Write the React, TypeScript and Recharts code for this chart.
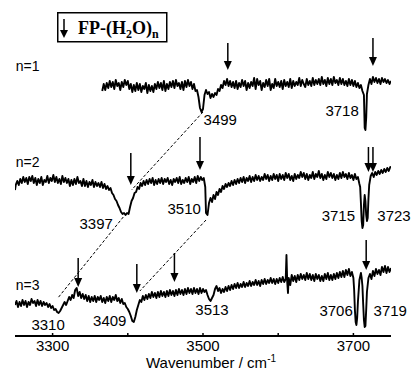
import React from 'react';
import { LineChart, Line, XAxis, YAxis, ReferenceLine, ReferenceDot, Label } from 'recharts';

// Wavenumber (cm-1) / relative intensity pairs
const n1 = [[3366,-3],[3368,4],[3370,-2],[3372,5],[3374,0],[3376,7],[3378,1],[3380,6],[3382,-1],[3384,8],[3386,2],[3388,5],[3390,-2],[3392,6],[3394,1],[3396,8],[3398,3],[3400,7],[3402,-1],[3404,4],[3406,-4],[3408,3],[3410,-3],[3412,5],[3414,-2],[3416,4],[3418,-4],[3420,2],[3422,-1],[3424,5],[3426,-5],[3428,3],[3430,-3],[3432,2],[3434,-4],[3436,4],[3438,-1],[3440,6],[3442,0],[3444,5],[3446,-2],[3448,7],[3450,-3],[3452,4],[3454,-1],[3456,6],[3458,1],[3460,7],[3462,0],[3464,8],[3466,2],[3468,5],[3470,-1],[3472,6],[3474,-2],[3476,7],[3478,1],[3480,8],[3482,2],[3484,6],[3486,-1],[3488,4],[3490,-3],[3492,-2],[3494,-9],[3496,-20],[3498,-24],[3500,-21],[3502,-7],[3504,-2],[3506,-6],[3508,-4],[3510,-10],[3512,-6],[3514,-9],[3516,-5],[3518,-7],[3520,-1],[3522,-3],[3524,3],[3526,0],[3528,7],[3530,3],[3532,9],[3534,2],[3536,7],[3538,1],[3540,6],[3542,0],[3544,7],[3546,-1],[3548,5],[3550,1],[3552,8],[3554,2],[3556,7],[3558,-2],[3560,5],[3562,0],[3564,6],[3566,2],[3568,10],[3570,-1],[3572,9],[3574,3],[3576,7],[3578,-2],[3580,5],[3582,1],[3584,8],[3586,2],[3588,9],[3590,-2],[3592,4],[3594,0],[3596,9],[3598,2],[3600,6],[3602,1],[3604,7],[3606,-1],[3608,8],[3610,2],[3612,6],[3614,1],[3616,9],[3618,0],[3620,7],[3622,2],[3624,6],[3626,3],[3628,10],[3630,2],[3632,8],[3634,4],[3636,1],[3638,9],[3640,3],[3642,7],[3644,2],[3646,10],[3648,3],[3650,8],[3652,4],[3654,9],[3656,3],[3658,11],[3660,4],[3662,8],[3664,2],[3666,10],[3668,4],[3670,9],[3672,3],[3674,11],[3676,5],[3678,8],[3680,3],[3682,10],[3684,4],[3686,9],[3688,3],[3690,7],[3692,2],[3694,9],[3696,3],[3698,8],[3700,2],[3702,7],[3704,1],[3706,5],[3708,0],[3710,3],[3712,-3],[3714,-7],[3715,-40],[3716,-42],[3717,-30],[3718,-6],[3720,3],[3722,9],[3724,4],[3726,11],[3728,6],[3730,10],[3732,5],[3734,9],[3736,4],[3738,10],[3740,6],[3742,9],[3744,5],[3746,8],[3748,4],[3750,7]];

const n2 = [[3250,-7],[3251,-2],[3253,2],[3255,-2],[3257,4],[3259,0],[3261,6],[3263,1],[3265,5],[3267,-1],[3269,6],[3271,2],[3273,7],[3275,0],[3277,5],[3279,-2],[3281,4],[3283,0],[3285,6],[3287,-2],[3289,3],[3291,1],[3293,7],[3295,0],[3297,5],[3299,2],[3301,8],[3303,1],[3305,6],[3307,0],[3309,4],[3311,-1],[3313,7],[3315,1],[3317,5],[3319,0],[3321,4],[3323,-3],[3325,3],[3327,-2],[3329,4],[3331,-1],[3333,6],[3335,0],[3337,2],[3339,-3],[3341,4],[3343,-3],[3345,2],[3347,-4],[3349,1],[3351,-2],[3353,3],[3355,-4],[3357,1],[3359,-3],[3361,0],[3363,-4],[3365,1],[3367,-5],[3369,-1],[3371,-6],[3373,-3],[3375,-7],[3377,-5],[3379,-10],[3381,-12],[3383,-16],[3385,-18],[3387,-22],[3389,-25],[3391,-29],[3393,-31],[3395,-30],[3397,-32],[3399,-30],[3401,-31],[3403,-24],[3405,-18],[3407,-15],[3409,-10],[3411,-9],[3413,-4],[3415,-6],[3417,0],[3419,-3],[3421,2],[3423,-2],[3425,3],[3427,-1],[3429,4],[3431,0],[3433,5],[3435,-2],[3437,3],[3439,-1],[3441,4],[3443,0],[3445,5],[3447,-1],[3449,4],[3451,1],[3453,5],[3455,-1],[3457,3],[3459,-2],[3461,4],[3463,1],[3465,5],[3467,0],[3469,6],[3471,-1],[3473,3],[3475,0],[3477,5],[3479,1],[3481,6],[3483,-1],[3485,4],[3487,1],[3489,6],[3491,0],[3493,7],[3495,2],[3497,6],[3499,3],[3501,5],[3503,-4],[3504,-30],[3506,-32],[3508,-20],[3510,-15],[3512,-19],[3514,-12],[3516,-16],[3518,-9],[3520,-12],[3522,-6],[3524,-9],[3526,-3],[3528,-6],[3530,-1],[3532,-4],[3534,0],[3536,-3],[3538,2],[3540,-2],[3542,3],[3544,-1],[3546,4],[3548,0],[3550,5],[3552,1],[3554,6],[3556,0],[3558,5],[3560,2],[3562,7],[3564,1],[3566,6],[3568,2],[3570,8],[3572,3],[3574,7],[3576,2],[3578,6],[3580,3],[3582,9],[3584,4],[3586,8],[3588,2],[3590,7],[3592,3],[3594,9],[3596,4],[3598,8],[3600,2],[3602,9],[3604,4],[3606,8],[3608,3],[3610,10],[3612,5],[3614,9],[3616,3],[3618,7],[3620,2],[3622,9],[3624,4],[3626,8],[3628,5],[3630,11],[3632,6],[3634,10],[3636,4],[3638,9],[3640,3],[3642,8],[3644,5],[3646,11],[3648,4],[3650,9],[3652,6],[3654,12],[3656,5],[3658,9],[3660,3],[3662,8],[3664,4],[3666,11],[3668,6],[3670,10],[3672,5],[3674,9],[3676,3],[3678,8],[3680,4],[3682,10],[3684,5],[3686,11],[3688,6],[3690,9],[3692,4],[3694,10],[3696,5],[3698,8],[3700,3],[3702,9],[3704,4],[3706,6],[3708,-1],[3709,-4],[3710,-20],[3711,-38],[3712,-45],[3713,-42],[3714,-22],[3715,-12],[3716,-18],[3717,-32],[3718,-38],[3719,-35],[3720,-16],[3721,-2],[3723,7],[3725,10],[3727,6],[3729,11],[3731,8],[3733,12],[3735,9],[3737,13],[3739,10],[3741,14],[3743,11],[3745,15],[3747,12],[3749,16],[3750,15]];

const n3 = [[3250,-5],[3252,-1],[3254,-7],[3256,-2],[3258,-6],[3260,0],[3262,-5],[3264,-1],[3266,-7],[3268,-2],[3270,-5],[3272,1],[3274,-3],[3276,-1],[3278,-6],[3280,0],[3282,-5],[3284,-1],[3286,-6],[3288,-2],[3290,-5],[3292,-3],[3294,-7],[3296,-4],[3298,-8],[3300,-6],[3302,-10],[3304,-9],[3306,-12],[3308,-13],[3310,-11],[3312,-8],[3314,-5],[3316,-2],[3318,-5],[3320,-1],[3322,3],[3324,0],[3326,5],[3328,2],[3330,10],[3332,12],[3334,4],[3336,8],[3338,2],[3340,6],[3342,1],[3344,5],[3346,-1],[3348,4],[3350,-2],[3352,3],[3354,-1],[3356,4],[3358,-2],[3360,3],[3362,0],[3364,4],[3366,-2],[3368,2],[3370,-3],[3372,3],[3374,-1],[3376,4],[3378,-2],[3380,3],[3382,0],[3384,5],[3386,-1],[3388,2],[3390,-3],[3392,1],[3394,-4],[3396,-3],[3398,-7],[3400,-9],[3402,-12],[3404,-16],[3406,-21],[3408,-22],[3410,-17],[3412,-10],[3414,-5],[3416,0],[3418,-2],[3420,4],[3422,0],[3424,5],[3426,1],[3428,6],[3430,2],[3432,8],[3434,3],[3436,7],[3438,2],[3440,8],[3442,3],[3444,9],[3446,4],[3448,8],[3450,3],[3452,9],[3454,4],[3456,10],[3458,5],[3460,9],[3462,4],[3464,10],[3466,5],[3468,11],[3470,6],[3472,10],[3474,5],[3476,11],[3478,6],[3480,12],[3482,7],[3484,11],[3486,6],[3488,12],[3490,7],[3492,11],[3494,6],[3496,12],[3498,7],[3500,11],[3502,8],[3504,10],[3506,5],[3508,1],[3510,-1],[3512,2],[3514,5],[3516,11],[3518,14],[3520,9],[3522,12],[3524,7],[3526,11],[3528,8],[3530,13],[3532,9],[3534,14],[3536,10],[3538,15],[3540,11],[3542,16],[3544,12],[3546,17],[3548,12],[3550,16],[3552,13],[3554,18],[3556,13],[3558,17],[3560,14],[3562,19],[3564,14],[3566,18],[3568,15],[3570,20],[3572,15],[3574,19],[3576,14],[3578,20],[3580,16],[3582,21],[3584,16],[3586,20],[3588,17],[3590,22],[3592,17],[3594,21],[3596,16],[3598,21],[3600,17],[3602,22],[3604,18],[3606,23],[3608,18],[3610,21],[3611,45],[3612,18],[3613,7],[3614,22],[3616,15],[3618,25],[3620,19],[3622,24],[3624,18],[3626,25],[3628,20],[3630,26],[3632,21],[3634,25],[3636,20],[3638,27],[3640,21],[3642,26],[3644,20],[3646,25],[3648,19],[3650,26],[3652,21],[3654,25],[3656,19],[3658,24],[3660,19],[3662,26],[3664,21],[3666,27],[3668,20],[3670,25],[3672,20],[3674,26],[3676,21],[3678,27],[3680,22],[3682,28],[3684,23],[3686,29],[3688,23],[3690,30],[3692,25],[3694,31],[3696,24],[3698,28],[3700,22],[3701,10],[3702,-10],[3703,-22],[3704,-25],[3705,-18],[3706,-2],[3708,20],[3710,27],[3711,22],[3712,14],[3713,-4],[3714,-20],[3715,-27],[3716,-26],[3717,-10],[3718,8],[3720,22],[3722,26],[3724,21],[3726,29],[3728,24],[3730,31],[3732,26],[3734,30],[3736,25],[3738,33],[3740,28],[3742,34],[3744,27],[3746,33],[3748,28],[3750,32]];

// vertical offsets of the stacked spectra
const offsets = [248, 153, 36];
const traceNames = ['n=1', 'n=2', 'n=3'];

// peak labels: [text, wavenumber, height]
const peakLabels: [string, number, number][] = [
  ['3499', 3523, 216], ['3718', 3685, 225],
  ['3397', 3358, 112], ['3510', 3475, 127], ['3715', 3680, 120], ['3723', 3754, 120],
  ['3310', 3294, 11], ['3409', 3376, 15], ['3513', 3512, 26], ['3706', 3677, 25], ['3719', 3749, 25],
];
// trace name labels: [text, wavenumber, height]
const nameLabels: [string, number, number][] = [
  ['n=1', 3251, 270], ['n=2', 3251, 174], ['n=3', 3251, 51],
];
// arrows: [wavenumber, top, tip]
const arrows: [number, number, number][] = [
  [3533, 293, 266], [3726, 298, 270],
  [3404, 183, 151], [3496, 199, 166], [3720, 189, 164], [3726, 189, 164],
  [3334, 78, 49], [3412, 72, 43], [3462, 83, 54], [3717, 96, 66],
];
// dashed correlation lines: [wn1, y1, wn2, y2]
const dashes: [number, number, number, number][] = [
  [3500, 224, 3405, 146],
  [3394, 119, 3307, 38],
  [3504, 116, 3416, 45],
];
const xTicks = [3300, 3400, 3500, 3600, 3700];
const xTickLabels = [3300, 3500, 3700];

const traces = [n1, n2, n3].map((arr, i) => arr.map(([wn, r]) => ({ wn, v: r + offsets[i] })));

const FONT = '"Liberation Sans", Arial, sans-serif';

const ArrowShape = (p: any) => {
  const { x1, y1, x2, y2 } = p;
  return (
    <g>
      <line x1={x1} y1={y1} x2={x2} y2={y2 - 7} stroke="#000" strokeWidth={1.5} />
      <polygon points={`${x2 - 4},${y2 - 9} ${x2 + 4},${y2 - 9} ${x2},${y2}`} fill="#000" />
    </g>
  );
};

const Tick = (p: any) => {
  const { x, payload } = p;
  const show = xTickLabels.includes(payload.value);
  return (
    <g>
      <line x1={x} x2={x} y1={336} y2={333} stroke="#000" strokeWidth={1.5} />
      {show && (
        <text x={x} y={351} textAnchor="middle" fontSize={15} fontFamily={FONT} fill="#000">
          {String(payload.value)}
        </text>
      )}
    </g>
  );
};

const AxisTitle = (p: any) => {
  const vb = p.viewBox || { x: 15, width: 376 };
  return (
    <text x={vb.x + vb.width / 2 + 8} y={368} textAnchor="middle" fontSize={15} fontFamily={FONT} fill="#000">
      Wavenumber / cm<tspan fontSize={10} dy={-6}>-1</tspan>
    </text>
  );
};

export default function App() {
  return (
    <div style={{ position: 'absolute', left: 0, top: 0, width: 411, height: 372, background: '#fff' }}>
      <LineChart width={411} height={372} margin={{ top: 0, right: 20, bottom: 0, left: 15 }}>
        <XAxis
          type="number"
          dataKey="wn"
          domain={[3250, 3750]}
          ticks={xTicks}
          interval={0}
          height={36}
          tickSize={0}
          tickMargin={0}
          tickLine={false}
          tick={<Tick />}
          axisLine={{ stroke: '#000', strokeWidth: 2 }}
          allowDataOverflow
        >
          <Label content={<AxisTitle />} />
        </XAxis>
        <YAxis hide domain={[0, 336]} type="number" allowDataOverflow />
        {traces.map((d, i) => (
          <Line
            key={traceNames[i]}
            data={d}
            dataKey="v"
            name={traceNames[i]}
            type="linear"
            stroke="#000"
            strokeWidth={1.9}
            strokeLinejoin="round"
            dot={false}
            activeDot={false}
            isAnimationActive={false}
          />
        ))}
        {dashes.map(([a, b, c, d], i) => (
          <ReferenceLine
            key={'d' + i}
            segment={[{ x: a, y: b }, { x: c, y: d }]}
            stroke="#000"
            strokeWidth={1}
            strokeDasharray="3 2"
            ifOverflow="visible"
          />
        ))}
        {arrows.map(([wn, top, tip], i) => (
          <ReferenceLine
            key={'a' + i}
            segment={[{ x: wn, y: top }, { x: wn, y: tip }]}
            ifOverflow="visible"
            shape={ArrowShape}
          />
        ))}
        {peakLabels.map(([t, wn, y]) => (
          <ReferenceDot
            key={'p' + t + wn}
            x={wn}
            y={y}
            r={0}
            fill="none"
            stroke="none"
            ifOverflow="visible"
            label={{ value: t, position: 'center', fontSize: 15, fill: '#000', fontFamily: FONT }}
          />
        ))}
        {nameLabels.map(([t, wn, y]) => (
          <ReferenceDot
            key={'n' + t}
            x={wn}
            y={y}
            r={0}
            fill="none"
            stroke="none"
            ifOverflow="visible"
            shape={(p: any) => (
              <text x={p.cx} y={p.cy} dy={5} textAnchor="start" fontSize={14} fontFamily={FONT} fill="#000">
                {t}
              </text>
            )}
          />
        ))}
      </LineChart>
      <svg width={111} height={31} style={{ position: 'absolute', left: 57, top: 12 }}>
        <rect x={0.75} y={0.75} width={109} height={29} fill="#fff" stroke="#000" strokeWidth={1.5} />
        <line x1={7} y1={7} x2={7} y2={20} stroke="#000" strokeWidth={1.5} />
        <polygon points="3,18 11,18 7,26" fill="#000" />
        <text x={21} y={22} fontSize={18} fontWeight="bold" fontFamily='"Liberation Serif", "Times New Roman", serif' fill="#000">
          FP-(H<tspan fontSize={12} dy={4}>2</tspan><tspan dy={-4}>O)</tspan><tspan fontSize={12} dy={4}>n</tspan>
        </text>
      </svg>
    </div>
  );
}
